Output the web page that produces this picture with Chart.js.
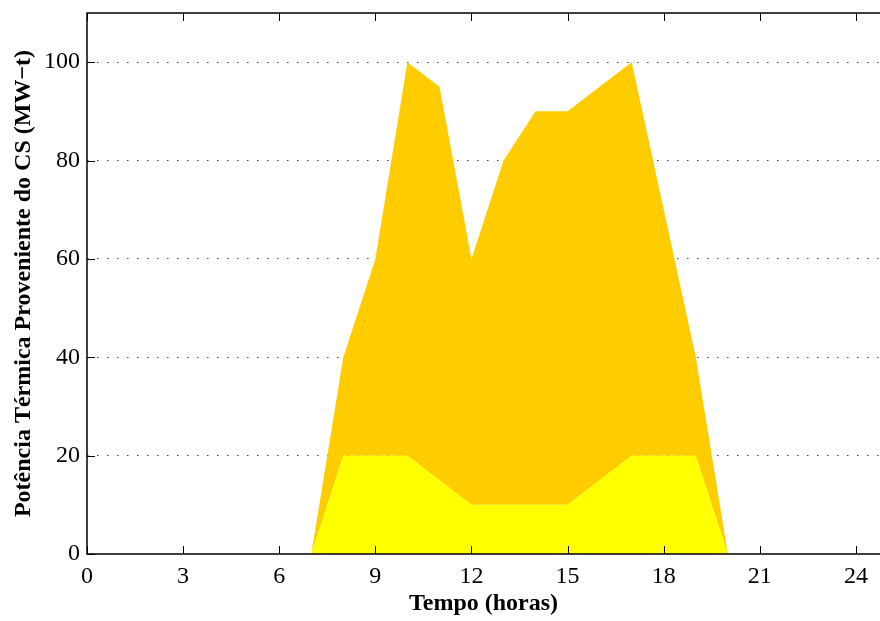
<!DOCTYPE html>
<html>
<head>
<meta charset="utf-8">
<script src="https://cdn.jsdelivr.net/npm/chart.js@4/dist/chart.umd.min.js"></script>
<style>
  html, body { margin: 0; padding: 0; background: #fff; }
  #wrap { width: 880px; height: 621px; }
</style>
</head>
<body>
<div id="wrap"><canvas id="myChart"></canvas></div>
<script>
// hours of the day
let hours = [0, 1, 2, 3, 4, 5, 6, 7, 8, 9, 10, 11, 12, 13, 14, 15, 16, 17, 18, 19, 20, 21, 22, 23, 24];
// lower band (yellow), MW-t
let baseVals = [0, 0, 0, 0, 0, 0, 0, 0, 20, 20, 20, 15, 10, 10, 10, 10, 15, 20, 20, 20, 0, 0, 0, 0, 0];
// total (top of orange band), MW-t
let totalVals = [0, 0, 0, 0, 0, 0, 0, 0, 40, 60, 100, 95, 60, 80, 90, 90, 95, 100, 70, 40, 0, 0, 0, 0, 0];
let xTicks = [0, 3, 6, 9, 12, 15, 18, 21, 24];
let yTicks = [0, 20, 40, 60, 80, 100];

const tickFont = { family: "Liberation Serif", size: 24 };
const titleFont = { family: "Liberation Serif", size: 24, weight: "bold" };

// frame + inward tick marks (matlab style), right side falls off the picture
const framePlugin = {
    id: "frame",
    afterDraw(chart) {
        const ctx = chart.ctx;
        const a = chart.chartArea;
        const xs = chart.scales.x;
        const ys = chart.scales.y;
        ctx.save();
        ctx.strokeStyle = "#000";
        ctx.lineWidth = 1.5;
        ctx.beginPath();
        ctx.moveTo(chart.width, a.top);
        ctx.lineTo(a.left, a.top);
        ctx.lineTo(a.left, a.bottom);
        ctx.lineTo(chart.width, a.bottom);
        ctx.stroke();
        ctx.beginPath();
        xTicks.forEach(v => {
            let px = Math.round(xs.getPixelForValue(v)) + 0.5;
            ctx.moveTo(px, a.bottom); ctx.lineTo(px, a.bottom - 8);
            ctx.moveTo(px, a.top); ctx.lineTo(px, a.top + 8);
        });
        yTicks.forEach(v => {
            let py = Math.round(ys.getPixelForValue(v)) + 0.5;
            ctx.moveTo(a.left, py); ctx.lineTo(a.left + 8, py);
        });
        ctx.lineWidth = 1;
        ctx.stroke();
        ctx.restore();
    }
};

function noPad(s) {
    s.paddingTop = 0;
    s.paddingBottom = 0;
    s.paddingLeft = 0;
    s.paddingRight = 0;
}

let config = {
    type: "line",
    data: {
        labels: hours,
        datasets: [{
            data: hours.map((h, i) => ({ x: h, y: baseVals[i] })),
            backgroundColor: "#ffff00",
            borderWidth: 0,
            pointRadius: 0,
            lineTension: 0,
            fill: "origin"
        }, {
            data: hours.map((h, i) => ({ x: h, y: totalVals[i] })),
            backgroundColor: "#ffcc00",
            borderWidth: 0,
            pointRadius: 0,
            lineTension: 0,
            fill: "-1"
        }]
    },
    options: {
        responsive: true,
        maintainAspectRatio: false,
        animation: false,
        layout: { padding: { top: 13, right: 0, bottom: 0, left: 0 } },
        plugins: { legend: { display: false }, tooltip: { enabled: false } },
        scales: {
            x: {
                type: "linear",
                min: 0,
                max: 24.75,
                afterBuildTicks: s => { s.ticks = xTicks.map(v => ({ value: v })); },
                afterFit: s => { s.height = 67; noPad(s); },
                grid: { display: false, drawTicks: false },
                border: { display: false },
                ticks: { font: tickFont, color: "#000", padding: 8, maxRotation: 0 },
                title: { display: true, text: "Tempo (horas)", font: titleFont, color: "#000", padding: { top: 0, bottom: 3 } }
            },
            y: {
                min: 0,
                max: 110,
                afterBuildTicks: s => { s.ticks = yTicks.map(v => ({ value: v })); },
                afterFit: s => { s.width = 87; noPad(s); },
                grid: {
                    drawTicks: false,
                    color: c => (c.tick && c.tick.value === 0) ? "rgba(0,0,0,0)" : "#444",
                    lineWidth: 1
                },
                border: { display: false, dash: [1.5, 8.5] },
                ticks: { font: tickFont, color: "#000", padding: 7 },
                title: { display: true, text: "Potência Térmica Proveniente do CS (MW−t)", font: titleFont, color: "#000", padding: { top: 9, bottom: 0 } }
            }
        }
    },
    plugins: [framePlugin]
};

let myChart = new Chart("myChart", config);
</script>
</body>
</html>
